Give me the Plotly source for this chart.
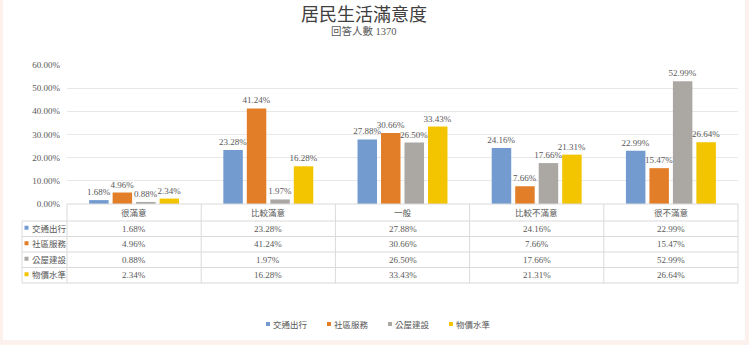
import plotly.graph_objects as go

# Survey results (percent of 1370 respondents)
categories = ["很滿意", "比較滿意", "一般", "比較不滿意", "很不滿意"]
series_names = ["交通出行", "社區服務", "公屋建設", "物價水準"]
transport = [1.68, 23.28, 27.88, 24.16, 22.99]
community = [4.96, 41.24, 30.66, 7.66, 15.47]
housing = [0.88, 1.97, 26.50, 17.66, 52.99]
prices = [2.34, 16.28, 33.43, 21.31, 26.64]
y_ticks = [0, 10, 20, 30, 40, 50, 60]
title_text = "居民生活滿意度"
subtitle_text = "回答人數 1370"

series_values = [transport, community, housing, prices]
colors = ["#739BD0", "#E27E27", "#ABA7A3", "#F3C500"]

FIG_W, FIG_H = 749, 345
L, R, T, B = 67, 11, 65, 141
PW = FIG_W - L - R
PH = FIG_H - T - B
BASE_Y = FIG_H - B  # pixel row of the value axis zero

TXT = "#595959"
LINE = "#DADADA"
FONT = "Liberation Serif, Noto Sans CJK TC, serif"
CJK = "Noto Sans CJK TC, sans-serif"


def xp(px):
    return (px - L) / PW


def yp(py):
    return (BASE_Y - py) / PH


fig = go.Figure()
for name, vals, col in zip(series_names, series_values, colors):
    fig.add_trace(go.Bar(
        x=categories, y=vals, name=name, marker_color=col,
        marker_line_width=0,
        texttemplate="%{y:.2f}%", textposition="outside",
        textfont=dict(family=FONT, size=9, color=TXT),
        constraintext="none", cliponaxis=False, showlegend=False,
    ))

shapes = []
annotations = []

# white card on the tinted page
shapes.append(dict(type="rect", xref="paper", yref="paper", layer="below",
                   x0=xp(3), x1=xp(745), y0=yp(340), y1=yp(-5),
                   fillcolor="white", line_width=0))

# data table under the chart
col_w = PW / len(categories)
col_edges = [L + i * col_w for i in range(len(categories) + 1)]
header_bottom = 221
row_h = 15.5
row_tops = [header_bottom + i * row_h for i in range(len(series_names) + 1)]
table_bottom = row_tops[-1]
label_left = 22


def hline(x0, x1, y):
    shapes.append(dict(type="line", xref="paper", yref="paper",
                       x0=xp(x0), x1=xp(x1), y0=yp(y), y1=yp(y),
                       line=dict(color=LINE, width=1)))


def vline(x, y0, y1):
    shapes.append(dict(type="line", xref="paper", yref="paper",
                       x0=xp(x), x1=xp(x), y0=yp(y0), y1=yp(y1),
                       line=dict(color=LINE, width=1)))


hline(col_edges[0], col_edges[-1], BASE_Y)
for y in row_tops:
    hline(label_left, col_edges[-1], y)
for x in col_edges:
    vline(x, BASE_Y, table_bottom)
vline(label_left, header_bottom, table_bottom)

for i, cat in enumerate(categories):
    cx = (col_edges[i] + col_edges[i + 1]) / 2
    annotations.append(dict(xref="paper", yref="paper", x=xp(cx),
                            y=yp((BASE_Y + header_bottom) / 2),
                            text=cat, showarrow=False, xanchor="center", yanchor="middle",
                            font=dict(family=FONT, size=8.5, color=TXT)))

for r, (name, vals, col) in enumerate(zip(series_names, series_values, colors)):
    cy = row_tops[r] + row_h / 2
    shapes.append(dict(type="rect", xref="paper", yref="paper",
                       x0=xp(24.5), x1=xp(28.5), y0=yp(cy + 1), y1=yp(cy - 3),
                       fillcolor=col, line_width=0))
    annotations.append(dict(xref="paper", yref="paper", x=xp(30), y=yp(cy),
                            text=name, showarrow=False, xanchor="left", yanchor="middle",
                            font=dict(family=FONT, size=8.5, color=TXT)))
    for i, v in enumerate(vals):
        cx = (col_edges[i] + col_edges[i + 1]) / 2
        annotations.append(dict(xref="paper", yref="paper", x=xp(cx), y=yp(cy),
                                text=f"{v:.2f}%", showarrow=False,
                                xanchor="center", yanchor="middle",
                                font=dict(family=FONT, size=9, color=TXT)))

# legend along the bottom
legend_x = [266, 327, 388, 449]
legend_y = 325
for lx, name, col in zip(legend_x, series_names, colors):
    shapes.append(dict(type="rect", xref="paper", yref="paper",
                       x0=xp(lx), x1=xp(lx + 4), y0=yp(legend_y + 1), y1=yp(legend_y - 3),
                       fillcolor=col, line_width=0))
    annotations.append(dict(xref="paper", yref="paper", x=xp(lx + 5), y=yp(legend_y),
                            text=name, showarrow=False, xanchor="left", yanchor="middle",
                            font=dict(family=FONT, size=8.5, color=TXT)))

# title and subtitle
annotations.append(dict(xref="paper", yref="paper", x=xp(364), y=yp(13),
                        text=title_text, showarrow=False, xanchor="center", yanchor="middle",
                        font=dict(family=CJK, size=18, color="#404040")))
annotations.append(dict(xref="paper", yref="paper", x=xp(364), y=yp(31),
                        text=subtitle_text, showarrow=False, xanchor="center", yanchor="middle",
                        font=dict(family=FONT, size=10.5, color=TXT)))

fig.update_layout(
    width=FIG_W, height=FIG_H,
    margin=dict(l=L, r=R, t=T, b=B, pad=0),
    paper_bgcolor="#FDF1ED", plot_bgcolor="white",
    barmode="group", bargap=0.3, bargroupgap=0.17,
    shapes=shapes, annotations=annotations,
    showlegend=False,
    xaxis=dict(showticklabels=False, showgrid=False, zeroline=False,
               showline=False, ticks="", fixedrange=True),
    yaxis=dict(range=[0, 60], tickvals=y_ticks,
               ticktext=[f"{v:.2f}%" for v in y_ticks],
               tickfont=dict(family=FONT, size=9, color=TXT),
               showgrid=True, gridcolor="#E8E8E8", gridwidth=1,
               zeroline=False, showline=False, ticks="",
               ticklabelstandoff=6, fixedrange=True),
)

fig.write_html("out.html")
